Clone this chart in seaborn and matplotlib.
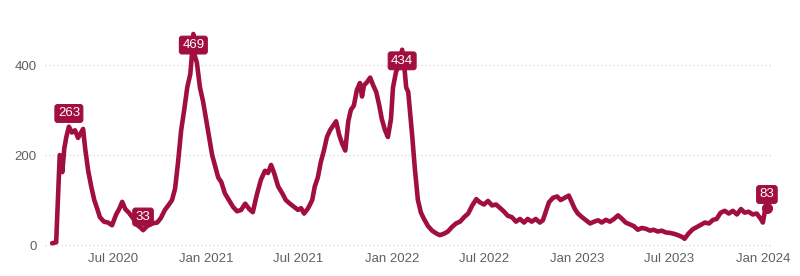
import matplotlib
matplotlib.use("Agg")
import matplotlib.pyplot as plt
import seaborn as sns
import pandas as pd

dates = [
    "2020-03-03", "2020-03-11", "2020-03-15", "2020-03-18", "2020-03-21", "2020-03-23", "2020-03-27", "2020-03-31",
    "2020-04-05", "2020-04-11", "2020-04-17", "2020-04-23", "2020-04-29", "2020-05-03", "2020-05-07", "2020-05-13",
    "2020-05-19", "2020-05-25", "2020-05-31", "2020-06-05", "2020-06-13", "2020-06-21", "2020-06-29", "2020-07-07",
    "2020-07-13", "2020-07-19", "2020-07-25", "2020-08-01", "2020-08-09", "2020-08-17", "2020-08-25", "2020-08-29",
    "2020-09-06", "2020-09-16", "2020-09-26", "2020-10-03", "2020-10-11", "2020-10-19", "2020-10-25", "2020-10-31",
    "2020-11-06", "2020-11-12", "2020-11-18", "2020-11-24", "2020-11-30", "2020-12-03", "2020-12-06", "2020-12-09",
    "2020-12-13", "2020-12-19", "2020-12-25", "2020-12-31", "2021-01-06", "2021-01-12", "2021-01-18", "2021-01-24",
    "2021-01-30", "2021-02-06", "2021-02-14", "2021-02-22", "2021-03-02", "2021-03-10", "2021-03-18", "2021-03-26",
    "2021-04-02", "2021-04-10", "2021-04-18", "2021-04-26", "2021-05-02", "2021-05-08", "2021-05-14", "2021-05-22",
    "2021-05-30", "2021-06-06", "2021-06-14", "2021-06-22", "2021-06-30", "2021-07-06", "2021-07-12", "2021-07-20",
    "2021-07-28", "2021-08-02", "2021-08-08", "2021-08-14", "2021-08-20", "2021-08-26", "2021-09-01", "2021-09-07",
    "2021-09-13", "2021-09-19", "2021-09-25", "2021-10-01", "2021-10-07", "2021-10-12", "2021-10-18", "2021-10-24",
    "2021-10-30", "2021-11-03", "2021-11-07", "2021-11-13", "2021-11-19", "2021-11-25", "2021-12-01", "2021-12-07",
    "2021-12-12", "2021-12-18", "2021-12-24", "2021-12-30", "2022-01-03", "2022-01-09", "2022-01-15", "2022-01-21",
    "2022-01-25", "2022-01-29", "2022-02-02", "2022-02-06", "2022-02-10", "2022-02-15", "2022-02-21", "2022-02-27",
    "2022-03-05", "2022-03-13", "2022-03-21", "2022-03-29", "2022-04-05", "2022-04-13", "2022-04-21", "2022-04-29",
    "2022-05-07", "2022-05-15", "2022-05-23", "2022-05-31", "2022-06-08", "2022-06-16", "2022-06-23", "2022-07-01",
    "2022-07-09", "2022-07-17", "2022-07-25", "2022-08-02", "2022-08-09", "2022-08-17", "2022-08-25", "2022-09-02",
    "2022-09-10", "2022-09-18", "2022-09-25", "2022-10-03", "2022-10-11", "2022-10-19", "2022-10-25", "2022-10-31",
    "2022-11-06", "2022-11-14", "2022-11-22", "2022-11-29", "2022-12-07", "2022-12-15", "2022-12-21", "2022-12-27",
    "2023-01-02", "2023-01-10", "2023-01-18", "2023-01-26", "2023-02-03", "2023-02-11", "2023-02-18", "2023-02-26",
    "2023-03-06", "2023-03-14", "2023-03-22", "2023-03-30", "2023-04-06", "2023-04-14", "2023-04-22", "2023-04-30",
    "2023-05-08", "2023-05-16", "2023-05-24", "2023-05-31", "2023-06-08", "2023-06-16", "2023-06-24", "2023-07-02",
    "2023-07-10", "2023-07-18", "2023-07-26", "2023-07-31", "2023-08-08", "2023-08-16", "2023-08-24", "2023-09-01",
    "2023-09-09", "2023-09-17", "2023-09-25", "2023-10-02", "2023-10-10", "2023-10-18", "2023-10-26", "2023-11-03",
    "2023-11-11", "2023-11-19", "2023-11-26", "2023-12-04", "2023-12-12", "2023-12-20", "2023-12-28", "2024-01-01",
    "2024-01-05", "2024-01-09",
]
values = [
    4, 6, 120, 200, 195, 162, 215, 240,
    263, 250, 255, 238, 250, 258, 215, 165,
    130, 100, 80, 62, 52, 50, 44, 68,
    80, 96, 80, 72, 60, 45, 38, 33,
    42, 48, 50, 60, 78, 90, 100, 125,
    185, 255, 300, 350, 380, 420, 469, 420,
    405, 350, 320, 280, 240, 200, 175, 150,
    140, 115, 100, 85, 75, 78, 92, 80,
    73, 112, 145, 165, 160, 178, 160, 130,
    115, 100, 92, 85, 78, 82, 70, 82,
    100, 130, 150, 185, 210, 240, 255, 265,
    275, 245, 225, 210, 275, 300, 310, 345,
    360, 330, 355, 362, 372, 355, 340, 310,
    280, 256, 240, 280, 350, 385, 400, 434,
    400, 350, 340, 290, 240, 170, 100, 72,
    58, 42, 32, 26, 22, 25, 30, 40,
    48, 52, 62, 70, 88, 102, 95, 90,
    98, 88, 90, 82, 75, 65, 62, 52,
    58, 50, 58, 52, 58, 50, 55, 75,
    95, 105, 108, 100, 105, 110, 95, 80,
    70, 62, 55, 48, 52, 55, 50, 56,
    52, 58, 66, 58, 50, 46, 42, 34,
    38, 36, 32, 34, 30, 32, 28, 27,
    25, 22, 18, 14, 26, 35, 40, 45,
    50, 48, 56, 58, 72, 76, 70, 76,
    68, 80, 72, 74, 68, 70, 58, 50,
    75, 83,
]

# labelled points
label_dates = ["2020-04-05", "2020-08-29", "2020-12-06", "2022-01-21", "2024-01-09"]
label_values = [263, 33, 469, 434, 83]
label_texts = ["263", "33", "469", "434", "83"]
label_side = ["above", "above", "below", "below", "above"]

x_tick_dates = ["2020-07-01", "2021-01-01", "2021-07-01", "2022-01-01",
                "2022-07-01", "2023-01-01", "2023-07-01", "2024-01-01"]
x_tick_labels = ["Jul 2020", "Jan 2021", "Jul 2021", "Jan 2022",
                 "Jul 2022", "Jan 2023", "Jul 2023", "Jan 2024"]
y_ticks = [0, 200, 400]

COLOR = "#A10F3E"

df = pd.DataFrame({"date": pd.to_datetime(dates), "value": values})

sns.set_theme(style="white")
plt.rcParams["font.family"] = ["Liberation Sans", "DejaVu Sans"]

fig = plt.figure(figsize=(8.0, 2.76), dpi=100)
ax = fig.add_axes([0.05625, 0.0942, 0.91, 0.8333])

sns.lineplot(data=df, x="date", y="value", ax=ax, color=COLOR, linewidth=3.3,
             solid_joinstyle="round", solid_capstyle="round")

# end marker
ax.plot([df["date"].iloc[-1]], [df["value"].iloc[-1]], marker="o", markersize=7,
        color=COLOR, zorder=5)

for d, v, t, s in zip(label_dates, label_values, label_texts, label_side):
    off = 9.5 if s == "above" else -8
    ax.annotate(t, xy=(pd.Timestamp(d), v), xytext=(0, off), textcoords="offset points",
                ha="center", va="center", color="white", fontsize=9.5,
                bbox=dict(boxstyle="round,pad=0.22,rounding_size=0.2", fc=COLOR, ec=COLOR, lw=0.8),
                zorder=6)

ax.set_xlim(pd.Timestamp("2020-02-18"), pd.Timestamp("2024-01-21"))
ax.set_ylim(-11, 500)
ax.set_yticks(y_ticks)
ax.set_yticklabels([str(v) for v in y_ticks])
ax.set_xticks(pd.to_datetime(x_tick_dates))
ax.set_xticklabels(x_tick_labels)
ax.set_xlabel("")
ax.set_ylabel("")

for s in ax.spines.values():
    s.set_visible(False)
ax.grid(False)
for v in y_ticks:
    ax.axhline(v, color="#d5d5d5", linewidth=0.9, linestyle=(0, (1, 2.2)), zorder=0)

ax.tick_params(axis="both", length=0, labelsize=9.5, colors="#606060")
ax.tick_params(axis="x", pad=2)
ax.tick_params(axis="y", pad=6)

fig.savefig("out.png", dpi=100, facecolor="white")
